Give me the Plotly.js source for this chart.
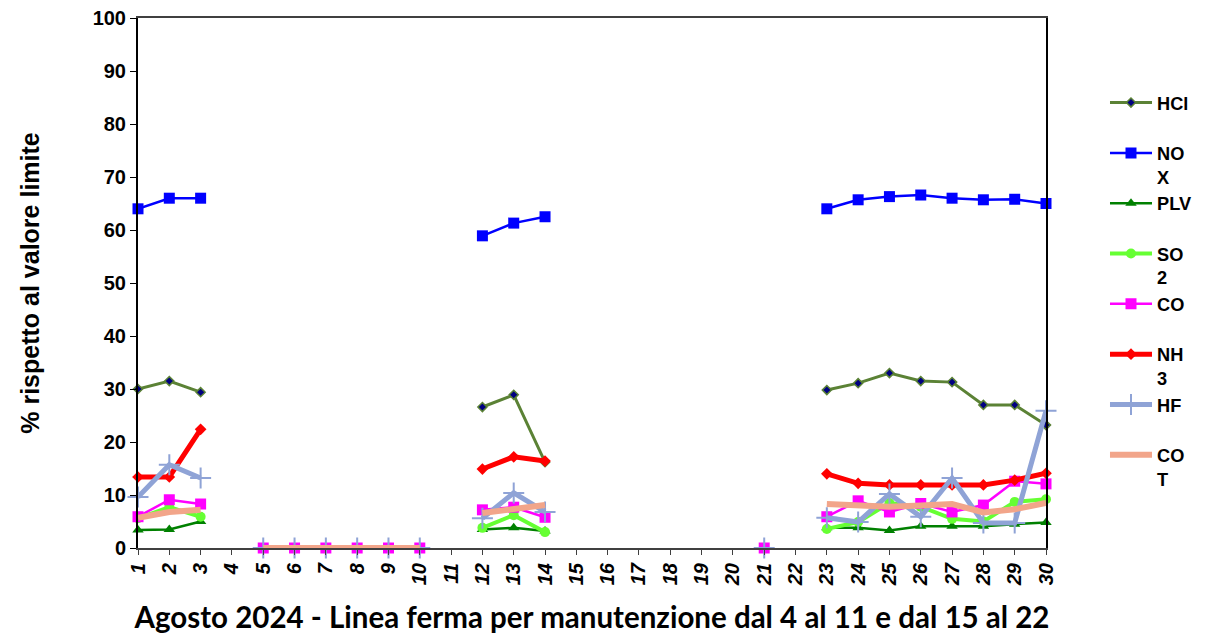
<!DOCTYPE html>
<html>
<head>
<meta charset="utf-8">
<script src="https://cdn.plot.ly/plotly-3.0.1.min.js"></script>
<style>body{margin:0;background:#fff}#chart{width:1208px;height:639px}</style>
</head>
<body>
<div id="chart"></div>
<script>
var n = null;
var days = [];
for (var d = 1; d <= 30; d++) days.push(d);
var tickLabels = days.map(String);

var HCl = [30,31.5,29.4,n,n,n,n,n,n,n,n,26.6,28.9,16.2,n,n,n,n,n,n,n,n,29.8,31.1,33,31.5,31.3,27,27,23.2];
var NOX = [64,66,66,n,n,n,n,n,n,n,n,58.9,61.3,62.5,n,n,n,n,n,n,n,n,64,65.7,66.3,66.6,66,65.7,65.8,65];
var PLV = [3.4,3.5,5,n,n,n,n,n,n,n,n,3.5,3.8,3.2,n,n,n,n,n,n,n,n,3.8,3.8,3.3,4.1,4.1,4.1,4.5,4.8];
var SO2 = [5.6,7.7,5.9,n,n,n,n,n,n,n,n,3.8,6.2,3.0,n,n,n,n,n,n,n,n,3.6,4.9,8.5,7.8,5.5,5.0,8.7,9.2];
var CO  = [5.9,9.1,8.3,n,0,0,0,0,0,0,n,7.2,7.7,5.8,n,n,n,n,n,n,0,n,5.9,8.9,6.8,8.4,6.8,8.1,12.6,12.1];
var NH3 = [13.4,13.4,22.4,n,n,n,n,n,n,n,n,14.9,17.2,16.4,n,n,n,n,n,n,n,n,14,12.2,11.9,11.9,11.9,11.9,12.8,14.1];
var HF  = [9.6,15.7,13.2,n,0,0,0,0,0,0,n,5.6,10.4,6.8,n,n,n,n,n,n,0,n,5.7,4.9,10.2,5.9,13.2,4.7,4.7,25.9];
var COT = [5.7,6.8,7.2,n,0,0,0,0,0,0,n,6.6,7.3,8.1,n,n,n,n,n,n,0,n,8.3,8.0,7.8,8.0,8.3,6.7,7.3,8.5];

var seriesNames = ["HCl","NO<br>X","PLV","SO<br>2","CO","NH<br>3","HF","CO<br>T"];
var seriesData = [HCl,NOX,PLV,SO2,CO,NH3,HF,COT];

var styles = [
  {line:{color:'#5B8235',width:3}, marker:{symbol:'diamond',size:7,color:'#000080',line:{color:'#5B8235',width:1.5}}},
  {line:{color:'#0000FF',width:2.5}, marker:{symbol:'square',size:11,color:'#0000FF'}},
  {line:{color:'#008000',width:2.5}, marker:{symbol:'triangle-up',size:10,color:'#008000'}},
  {line:{color:'#66FF33',width:4}, marker:{symbol:'circle',size:10,color:'#66FF33'}},
  {line:{color:'#FF00FF',width:2.5}, marker:{symbol:'square',size:11,color:'#FF00FF'}},
  {line:{color:'#FF0000',width:5}, marker:{symbol:'diamond',size:9,color:'#FF0000'}},
  {line:{color:'#8FA3D6',width:5}, marker:{symbol:'cross-thin',size:15,color:'#8FA3D6',line:{color:'#8FA3D6',width:2}}},
  {line:{color:'#F2A58A',width:6}, marker:{size:0}}
];

var traces = seriesData.map(function(vals,i){
  var padded = seriesNames[i].indexOf('<br>') >= 0 ? seriesNames[i] : seriesNames[i] + '<br>\u00a0';
  var t = {
    x: days, y: vals, name: padded, type:'scatter',
    mode: i === 7 ? 'lines' : 'lines+markers',
    connectgaps:false, cliponaxis:false,
    line: styles[i].line
  };
  if (i !== 7) t.marker = styles[i].marker;
  return t;
});

var font = {family:'Liberation Sans, Arial, sans-serif', color:'#000', weight:700};

var layout = {
  width:1208, height:639,
  margin:{l:138, r:161, t:18, b:91},
  paper_bgcolor:'#fff', plot_bgcolor:'#fff',
  showlegend:true,
  font: font,
  xaxis:{
    range:[1,30], tickvals:days, ticktext:tickLabels, tickangle:-90,
    ticks:'outside', ticklen:5, tickcolor:'#404040',
    showline:true, linecolor:'#404040', linewidth:2, mirror:true,
    showgrid:false, zeroline:false,
    tickfont:{family:'Liberation Sans, Arial, sans-serif', size:20, weight:700, style:'italic', color:'#000'},
    title:{text:'Agosto 2024 - Linea ferma per manutenzione dal 4 al 11 e dal 15 al 22',
      font:{family:'Lato, Open Sans, sans-serif', size:29.5, weight:700, color:'#000'}, standoff:22}
  },
  yaxis:{
    range:[0,100], dtick:10,
    ticks:'outside', ticklen:6, tickcolor:'#000',
    showline:true, linecolor:'#000', linewidth:2, mirror:true,
    showgrid:false, zeroline:false,
    tickfont:{family:'Liberation Sans, Arial, sans-serif', size:20, weight:700, color:'#000'},
    title:{text:'% rispetto al valore limite',
      font:{family:'Liberation Sans, Arial, sans-serif', size:25, weight:700, color:'#000'}, standoff:46}
  },
  legend:{
    x:1.0638, y:0.875, xanchor:'left', yanchor:'top',
    valign:'top', tracegroupgap:0, itemwidth:42,
    font:{family:'Liberation Sans, Arial, sans-serif', size:18.2, weight:700, color:'#000'},
    bgcolor:'rgba(0,0,0,0)'
  }
};

Plotly.newPlot('chart', traces, layout, {displayModeBar:false, staticPlot:true});
</script>
</body>
</html>
